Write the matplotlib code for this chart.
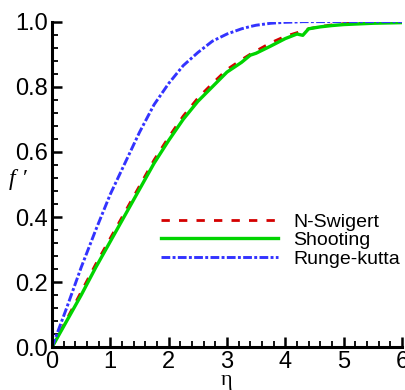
import matplotlib

matplotlib.use("Agg")
import matplotlib.pyplot as plt
from matplotlib.ticker import MultipleLocator

# f' profiles
eta = [0.0, 0.25, 0.5, 0.75, 1.0, 1.25, 1.5, 1.75, 2.0, 2.25, 2.5, 2.75,
       3.0, 3.25, 3.4, 3.5, 3.75, 4.0, 4.2, 4.3, 4.4, 4.6, 4.8, 5.0, 5.5, 6.0]
f_swigert = [0.0, 0.085, 0.17, 0.255, 0.335, 0.415, 0.495, 0.575, 0.645, 0.71, 0.765, 0.81,
             0.853, 0.883, 0.9, 0.91, 0.935, 0.955, 0.966, 0.972, 0.978, 0.985, 0.99, 0.994, 0.998, 1.0]
f_shooting = [0.0, 0.08, 0.16, 0.245, 0.325, 0.405, 0.485, 0.565, 0.635, 0.70, 0.755, 0.80,
              0.845, 0.875, 0.897, 0.903, 0.925, 0.948, 0.962, 0.958, 0.978, 0.984, 0.988, 0.991, 0.995, 0.997]
f_rk = [0.0, 0.12, 0.245, 0.36, 0.47, 0.565, 0.66, 0.745, 0.81, 0.865, 0.905, 0.94,
        0.962, 0.978, 0.985, 0.989, 0.995, 0.998, 0.999, 1.0, 1.0, 1.0, 1.0, 1.0, 1.0, 1.0]

plt.rcParams.update({
    "font.family": ["Liberation Sans", "DejaVu Sans"],
    "font.size": 17,
})

fig = plt.figure(figsize=(4.06, 3.90), dpi=100)
ax = fig.add_axes([0.128, 0.1095, 0.862, 0.835])

ax.plot(eta, f_swigert, color="#d40000", lw=2.0, linestyle=(0, (3, 3.3)), label="N-Swigert")
ax.plot(eta, f_shooting, color="#00d400", lw=2.4, linestyle="-", label="Shooting")
ax.plot(eta, f_rk, color="#3333ff", lw=2.1, linestyle=(0, (3, 0.8, 1, 0.8)), label="Runge-kutta")

ax.set_xlim(0, 6)
ax.set_ylim(0, 1.0)
ax.xaxis.set_major_locator(MultipleLocator(1))
ax.xaxis.set_minor_locator(MultipleLocator(0.2))
ax.yaxis.set_major_locator(MultipleLocator(0.2))
ax.yaxis.set_minor_locator(MultipleLocator(0.04))
ax.yaxis.set_major_formatter(plt.FormatStrFormatter("%.1f"))

for side in ("top", "right"):
    ax.spines[side].set_visible(False)
for side in ("left", "bottom"):
    ax.spines[side].set_linewidth(2.2)
ax.tick_params(which="major", direction="in", length=7, width=1.8, labelsize=17, pad=3)
ax.tick_params(which="minor", direction="in", length=4, width=1.3)

fig.text(227 / 406, 1 - 381 / 390, "η", fontsize=16, family="Liberation Serif",
         ha="center", va="center")
fig.text(18 / 406, 1 - 180 / 390, "f \u2032", fontsize=17, family="Liberation Serif",
         style="italic", ha="center", va="center")

ax.legend(loc="upper left", bbox_to_anchor=(0.262, 0.466), frameon=False,
          handlelength=6.0, labelspacing=0.05, handletextpad=0.8, fontsize=14)

fig.savefig("out.png", dpi=100)
